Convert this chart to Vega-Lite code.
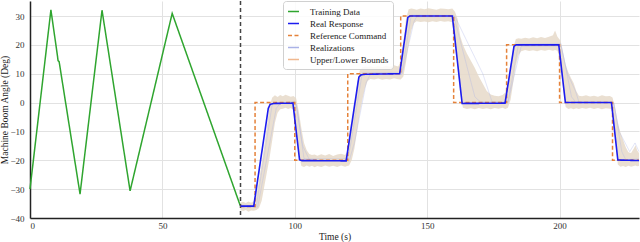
{
  "$schema": "https://vega.github.io/schema/vega-lite/v6.json",
  "width": 609,
  "height": 217,
  "autosize": {"type": "none"},
  "padding": {"left": 30, "top": 1, "right": 1, "bottom": 24},
  "background": "white",
  "datasets": {
    "training": [
      {"t": 0, "y": -30, "series": "Training Data"},
      {"t": 7.9, "y": 32.1, "series": "Training Data"},
      {"t": 10.4, "y": 16, "series": "Training Data"},
      {"t": 10.6, "y": 14.5, "series": "Training Data"},
      {"t": 11.0, "y": 14.2, "series": "Training Data"},
      {"t": 18.9, "y": -31.7, "series": "Training Data"},
      {"t": 27.2, "y": 32, "series": "Training Data"},
      {"t": 37.8, "y": -30.6, "series": "Training Data"},
      {"t": 53.7, "y": 30.9, "series": "Training Data"},
      {"t": 79.4, "y": -35.7, "series": "Training Data"}
    ],
    "divider": [{"t": 79.5}],
    "command": [
      {"t": 79.5, "y": -36, "series": "Reference Command"},
      {"t": 85, "y": 0, "series": "Reference Command"},
      {"t": 100, "y": -20, "series": "Reference Command"},
      {"t": 120, "y": 10, "series": "Reference Command"},
      {"t": 140, "y": 30, "series": "Reference Command"},
      {"t": 160, "y": 0, "series": "Reference Command"},
      {"t": 180, "y": 20, "series": "Reference Command"},
      {"t": 200, "y": 0, "series": "Reference Command"},
      {"t": 220, "y": -20, "series": "Reference Command"},
      {"t": 230, "y": -20, "series": "Reference Command"}
    ],
    "response": [
      {"t": 79.5, "y": -35.9, "series": "Real Response"},
      {"t": 84.5, "y": -35.9, "series": "Real Response"},
      {"t": 90, "y": -2, "series": "Real Response"},
      {"t": 90.7, "y": -0.6, "series": "Real Response"},
      {"t": 92, "y": -0.3, "series": "Real Response"},
      {"t": 99.3, "y": -0.2, "series": "Real Response"},
      {"t": 101.8, "y": -19.8, "series": "Real Response"},
      {"t": 102.5, "y": -20.1, "series": "Real Response"},
      {"t": 119.4, "y": -20.2, "series": "Real Response"},
      {"t": 124.2, "y": 8.8, "series": "Real Response"},
      {"t": 125, "y": 9.6, "series": "Real Response"},
      {"t": 126.5, "y": 9.8, "series": "Real Response"},
      {"t": 139.6, "y": 10, "series": "Real Response"},
      {"t": 142.7, "y": 29.5, "series": "Real Response"},
      {"t": 143.5, "y": 30, "series": "Real Response"},
      {"t": 159.5, "y": 30, "series": "Real Response"},
      {"t": 163.2, "y": -0.3, "series": "Real Response"},
      {"t": 179.4, "y": -0.2, "series": "Real Response"},
      {"t": 182.8, "y": 19.5, "series": "Real Response"},
      {"t": 183.6, "y": 20, "series": "Real Response"},
      {"t": 199.7, "y": 20, "series": "Real Response"},
      {"t": 202.2, "y": 0, "series": "Real Response"},
      {"t": 219.6, "y": 0, "series": "Real Response"},
      {"t": 222, "y": -19.9, "series": "Real Response"},
      {"t": 230, "y": -20.1, "series": "Real Response"}
    ],
    "band": [
      {"t": 79.5, "lo": -37.3, "hi": -34.6},
      {"t": 80.5, "lo": -37.6, "hi": -34.4},
      {"t": 81.5, "lo": -37.2, "hi": -34.8},
      {"t": 82.5, "lo": -37.8, "hi": -34.3},
      {"t": 83.5, "lo": -37.4, "hi": -34.7},
      {"t": 84.5, "lo": -37.5, "hi": -34.2},
      {"t": 85.5, "lo": -37.2, "hi": -32},
      {"t": 86.5, "lo": -36.5, "hi": -27},
      {"t": 87.5, "lo": -34, "hi": -21},
      {"t": 88.5, "lo": -29, "hi": -15},
      {"t": 89.5, "lo": -24, "hi": -8},
      {"t": 90.5, "lo": -19, "hi": -1},
      {"t": 91.5, "lo": -13, "hi": 1.8},
      {"t": 92.5, "lo": -7, "hi": 2.5},
      {"t": 93.5, "lo": -3.5, "hi": 1.9},
      {"t": 94.5, "lo": -2.3, "hi": 2.6},
      {"t": 95.5, "lo": -2.1, "hi": 2.2},
      {"t": 96.5, "lo": -1.8, "hi": 2.7},
      {"t": 97.5, "lo": -2.2, "hi": 2.4},
      {"t": 98.5, "lo": -1.9, "hi": 2.0},
      {"t": 99.5, "lo": -2.5, "hi": 2.3},
      {"t": 100.5, "lo": -9, "hi": 1.5},
      {"t": 101.5, "lo": -18, "hi": -3},
      {"t": 102.5, "lo": -22, "hi": -9},
      {"t": 103.5, "lo": -22.3, "hi": -14},
      {"t": 104.5, "lo": -21.8, "hi": -16.5},
      {"t": 105.5, "lo": -22.2, "hi": -17.8},
      {"t": 106.5, "lo": -21.9, "hi": -18.2},
      {"t": 107.5, "lo": -22.4, "hi": -18.0},
      {"t": 108.5, "lo": -22.0, "hi": -18.4},
      {"t": 110, "lo": -22.3, "hi": -17.9},
      {"t": 111.5, "lo": -21.8, "hi": -18.3},
      {"t": 113, "lo": -22.2, "hi": -17.8},
      {"t": 114.5, "lo": -21.9, "hi": -18.5},
      {"t": 116, "lo": -22.3, "hi": -18.0},
      {"t": 117.5, "lo": -21.8, "hi": -17.7},
      {"t": 119, "lo": -22.2, "hi": -18.2},
      {"t": 119.8, "lo": -22.0, "hi": -17},
      {"t": 120.5, "lo": -21.8, "hi": -13},
      {"t": 121.5, "lo": -20, "hi": -7},
      {"t": 122.5, "lo": -16, "hi": -1},
      {"t": 123.5, "lo": -10, "hi": 6},
      {"t": 124.5, "lo": -4, "hi": 11},
      {"t": 125.5, "lo": 1, "hi": 12.2},
      {"t": 126.5, "lo": 5, "hi": 12.5},
      {"t": 127.5, "lo": 7.5, "hi": 12.3},
      {"t": 128.5, "lo": 8.2, "hi": 12.6},
      {"t": 130, "lo": 8.0, "hi": 12.2},
      {"t": 131.5, "lo": 8.3, "hi": 12.7},
      {"t": 133, "lo": 7.9, "hi": 12.3},
      {"t": 134.5, "lo": 8.2, "hi": 12.8},
      {"t": 136, "lo": 8.0, "hi": 12.4},
      {"t": 137.5, "lo": 8.4, "hi": 12.9},
      {"t": 139, "lo": 8.1, "hi": 12.5},
      {"t": 140, "lo": 8.0, "hi": 14},
      {"t": 141, "lo": 9, "hi": 21},
      {"t": 142, "lo": 14, "hi": 29},
      {"t": 143, "lo": 20, "hi": 32.3},
      {"t": 144, "lo": 25, "hi": 32.6},
      {"t": 145, "lo": 27.5, "hi": 32.4},
      {"t": 146, "lo": 28.2, "hi": 32.2},
      {"t": 147.5, "lo": 27.9, "hi": 32.6},
      {"t": 149, "lo": 28.1, "hi": 32.3},
      {"t": 150.5, "lo": 27.8, "hi": 32.7},
      {"t": 152, "lo": 28.2, "hi": 32.4},
      {"t": 153.5, "lo": 27.9, "hi": 32.2},
      {"t": 155, "lo": 28.3, "hi": 32.6},
      {"t": 156.5, "lo": 28.0, "hi": 32.5},
      {"t": 158, "lo": 28.2, "hi": 32.3},
      {"t": 159.5, "lo": 27.8, "hi": 32.6},
      {"t": 160.5, "lo": 22, "hi": 31.5},
      {"t": 161.5, "lo": 12, "hi": 29},
      {"t": 162.5, "lo": 3, "hi": 23},
      {"t": 163.5, "lo": -1.8, "hi": 20},
      {"t": 165, "lo": -2.2, "hi": 17},
      {"t": 166.5, "lo": -2.0, "hi": 14.5},
      {"t": 168, "lo": -2.3, "hi": 12},
      {"t": 169.5, "lo": -1.9, "hi": 9},
      {"t": 171, "lo": -2.2, "hi": 6.5},
      {"t": 172.5, "lo": -2.0, "hi": 4},
      {"t": 174, "lo": -2.3, "hi": 2.8},
      {"t": 175.5, "lo": -1.9, "hi": 2.4},
      {"t": 177, "lo": -2.1, "hi": 2.2},
      {"t": 178.5, "lo": -1.8, "hi": 2.6},
      {"t": 179.5, "lo": -2.2, "hi": 3.5},
      {"t": 180.5, "lo": -1.8, "hi": 7},
      {"t": 181.5, "lo": 1, "hi": 13},
      {"t": 182.5, "lo": 7, "hi": 19},
      {"t": 183.5, "lo": 13, "hi": 22},
      {"t": 184.5, "lo": 16.5, "hi": 22.3},
      {"t": 185.5, "lo": 17.8, "hi": 22.1},
      {"t": 187, "lo": 18.2, "hi": 22.5},
      {"t": 188.5, "lo": 17.9, "hi": 22.2},
      {"t": 190, "lo": 18.1, "hi": 22.6},
      {"t": 191.5, "lo": 17.8, "hi": 22.3},
      {"t": 193, "lo": 18.2, "hi": 22.7},
      {"t": 194.5, "lo": 18.0, "hi": 22.4},
      {"t": 196, "lo": 18.3, "hi": 22.8},
      {"t": 197.5, "lo": 18.0, "hi": 23.3},
      {"t": 198.3, "lo": 18.2, "hi": 25},
      {"t": 199.2, "lo": 18.0, "hi": 22.8},
      {"t": 200.3, "lo": 14, "hi": 21.5},
      {"t": 201.3, "lo": 5, "hi": 17.5},
      {"t": 202.3, "lo": -1.5, "hi": 13},
      {"t": 203.3, "lo": -2.2, "hi": 10.5},
      {"t": 204.3, "lo": -2.0, "hi": 8.5},
      {"t": 205.3, "lo": -2.3, "hi": 6.8},
      {"t": 206.3, "lo": -2.0, "hi": 4},
      {"t": 207.3, "lo": -2.2, "hi": 2.4},
      {"t": 208.5, "lo": -1.9, "hi": 2.2},
      {"t": 210, "lo": -2.1, "hi": 2.5},
      {"t": 211.5, "lo": -1.8, "hi": 2.1},
      {"t": 213, "lo": -2.2, "hi": 2.4},
      {"t": 214.5, "lo": -1.9, "hi": 2.0},
      {"t": 216, "lo": -2.3, "hi": 2.5},
      {"t": 217.5, "lo": -2.0, "hi": 2.2},
      {"t": 219, "lo": -2.1, "hi": 2.3},
      {"t": 220, "lo": -2.2, "hi": 1.8},
      {"t": 221, "lo": -11, "hi": -2},
      {"t": 222, "lo": -21.5, "hi": -7},
      {"t": 223, "lo": -22.2, "hi": -10.5},
      {"t": 224, "lo": -22.0, "hi": -13},
      {"t": 225, "lo": -22.3, "hi": -15.5},
      {"t": 226, "lo": -21.9, "hi": -17.2},
      {"t": 227, "lo": -22.2, "hi": -17.5},
      {"t": 228, "lo": -22.0, "hi": -16},
      {"t": 228.7, "lo": -21.8, "hi": -14.8},
      {"t": 229.3, "lo": -22.1, "hi": -16.5},
      {"t": 230, "lo": -22.0, "hi": -17.5}
    ],
    "realizations": [
      {"run": "A", "t": 79.5, "y": -35.5, "series": "Realizations"},
      {"run": "A", "t": 85.5, "y": -35.8, "series": "Realizations"},
      {"run": "A", "t": 91.5, "y": -0.5, "series": "Realizations"},
      {"run": "A", "t": 100, "y": 0.5, "series": "Realizations"},
      {"run": "A", "t": 101, "y": -3, "series": "Realizations"},
      {"run": "A", "t": 103.5, "y": -19.5, "series": "Realizations"},
      {"run": "A", "t": 120, "y": -19.5, "series": "Realizations"},
      {"run": "A", "t": 121, "y": -15, "series": "Realizations"},
      {"run": "A", "t": 125.5, "y": 10.3, "series": "Realizations"},
      {"run": "A", "t": 140.5, "y": 10.5, "series": "Realizations"},
      {"run": "A", "t": 144, "y": 30.3, "series": "Realizations"},
      {"run": "A", "t": 160, "y": 30.2, "series": "Realizations"},
      {"run": "A", "t": 168, "y": 2, "series": "Realizations"},
      {"run": "A", "t": 170, "y": 0.3, "series": "Realizations"},
      {"run": "A", "t": 180.5, "y": 0.2, "series": "Realizations"},
      {"run": "A", "t": 184.5, "y": 20.3, "series": "Realizations"},
      {"run": "A", "t": 200.5, "y": 20.5, "series": "Realizations"},
      {"run": "A", "t": 204.5, "y": 2, "series": "Realizations"},
      {"run": "A", "t": 206, "y": 0.3, "series": "Realizations"},
      {"run": "A", "t": 220.5, "y": 0, "series": "Realizations"},
      {"run": "A", "t": 223.5, "y": -17, "series": "Realizations"},
      {"run": "A", "t": 225, "y": -19.8, "series": "Realizations"},
      {"run": "A", "t": 230, "y": -19.5, "series": "Realizations"},
      {"run": "B", "t": 79.5, "y": -36.5, "series": "Realizations"},
      {"run": "B", "t": 86, "y": -36.2, "series": "Realizations"},
      {"run": "B", "t": 93, "y": -2, "series": "Realizations"},
      {"run": "B", "t": 94.5, "y": -0.3, "series": "Realizations"},
      {"run": "B", "t": 100.5, "y": -0.5, "series": "Realizations"},
      {"run": "B", "t": 103, "y": -15, "series": "Realizations"},
      {"run": "B", "t": 105.5, "y": -19.8, "series": "Realizations"},
      {"run": "B", "t": 120.5, "y": -20.3, "series": "Realizations"},
      {"run": "B", "t": 122.5, "y": -14, "series": "Realizations"},
      {"run": "B", "t": 127, "y": 7, "series": "Realizations"},
      {"run": "B", "t": 128.5, "y": 9.7, "series": "Realizations"},
      {"run": "B", "t": 140.5, "y": 9.8, "series": "Realizations"},
      {"run": "B", "t": 141.5, "y": 14, "series": "Realizations"},
      {"run": "B", "t": 145, "y": 28, "series": "Realizations"},
      {"run": "B", "t": 146, "y": 29.7, "series": "Realizations"},
      {"run": "B", "t": 160.5, "y": 29.8, "series": "Realizations"},
      {"run": "B", "t": 171, "y": 10, "series": "Realizations"},
      {"run": "B", "t": 174.5, "y": 0.3, "series": "Realizations"},
      {"run": "B", "t": 180.5, "y": -0.2, "series": "Realizations"},
      {"run": "B", "t": 181.5, "y": 4, "series": "Realizations"},
      {"run": "B", "t": 185.5, "y": 19.5, "series": "Realizations"},
      {"run": "B", "t": 200.5, "y": 19.6, "series": "Realizations"},
      {"run": "B", "t": 203, "y": 10, "series": "Realizations"},
      {"run": "B", "t": 206, "y": 4, "series": "Realizations"},
      {"run": "B", "t": 207.5, "y": -0.3, "series": "Realizations"},
      {"run": "B", "t": 220.5, "y": -0.3, "series": "Realizations"},
      {"run": "B", "t": 222.5, "y": -10, "series": "Realizations"},
      {"run": "B", "t": 226.5, "y": -17, "series": "Realizations"},
      {"run": "B", "t": 228.5, "y": -14, "series": "Realizations"},
      {"run": "B", "t": 230, "y": -17, "series": "Realizations"}
    ]
  },
  "layer": [
    {
      "data": {"name": "band"},
      "mark": {"type": "area", "color": "#e6d9c9", "opacity": 0.85},
      "encoding": {
        "x": {"field": "t", "type": "quantitative", "scale": {"domain": [0, 230], "nice": false}, "axis": {"title": "Time (s)", "values": [0, 50, 100, 150, 200], "labelPadding": 3, "titlePadding": 1}},
        "y": {"field": "lo", "type": "quantitative", "scale": {"domain": [-40, 35.2], "nice": false, "zero": false}, "axis": {"title": "Machine Boom Angle (Deg)", "values": [-40, -30, -20, -10, 0, 10, 20, 30], "labelPadding": 6, "titleX": -21, "labelExpr": "replace(datum.label, '-', '\u2212')"}},
        "y2": {"field": "hi"}
      }
    },
    {
      "data": {"name": "realizations"},
      "mark": {"type": "line", "strokeWidth": 1, "opacity": 0.35},
      "encoding": {
        "x": {"field": "t", "type": "quantitative", "axis": {"title": "Time (s)", "values": [0, 50, 100, 150, 200], "labelPadding": 3, "titlePadding": 1}},
        "y": {"field": "y", "type": "quantitative", "axis": {"title": "Machine Boom Angle (Deg)", "values": [-40, -30, -20, -10, 0, 10, 20, 30], "labelPadding": 6, "titleX": -21, "labelExpr": "replace(datum.label, '-', '\u2212')"}},
        "detail": {"field": "run"},
        "color": {"field": "series", "type": "nominal"},
        "strokeDash": {"field": "series", "type": "nominal"}
      }
    },
    {
      "data": {"name": "training"},
      "mark": {"type": "line", "strokeWidth": 1.5},
      "encoding": {
        "x": {"field": "t", "type": "quantitative", "axis": {"title": "Time (s)", "values": [0, 50, 100, 150, 200], "labelPadding": 3, "titlePadding": 1}},
        "y": {"field": "y", "type": "quantitative", "axis": {"title": "Machine Boom Angle (Deg)", "values": [-40, -30, -20, -10, 0, 10, 20, 30], "labelPadding": 6, "titleX": -21, "labelExpr": "replace(datum.label, '-', '\u2212')"}},
        "color": {
          "field": "series", "type": "nominal",
          "scale": {
            "domain": ["Training Data", "Real Response", "Reference Command", "Realizations", "Upper/Lower Bounds"],
            "range": ["#2fa52f", "#1c1cf0", "#e5823a", "#aab2e6", "#f0b88f"]
          },
          "legend": {"title": null}
        },
        "strokeDash": {
          "field": "series", "type": "nominal",
          "scale": {
            "domain": ["Training Data", "Real Response", "Reference Command", "Realizations", "Upper/Lower Bounds"],
            "range": [[1, 0], [1, 0], [4, 2.5], [1, 0], [1, 0]]
          },
          "legend": {"title": null}
        }
      }
    },
    {
      "data": {"name": "divider"},
      "mark": {"type": "rule", "color": "#444444", "strokeDash": [4, 3], "strokeWidth": 1.5},
      "encoding": {
        "x": {"field": "t", "type": "quantitative", "axis": {"title": "Time (s)", "values": [0, 50, 100, 150, 200], "labelPadding": 3, "titlePadding": 1}}
      }
    },
    {
      "data": {"name": "command"},
      "mark": {"type": "line", "strokeWidth": 1.5, "interpolate": "step-after"},
      "encoding": {
        "x": {"field": "t", "type": "quantitative", "axis": {"title": "Time (s)", "values": [0, 50, 100, 150, 200], "labelPadding": 3, "titlePadding": 1}},
        "y": {"field": "y", "type": "quantitative", "axis": {"title": "Machine Boom Angle (Deg)", "values": [-40, -30, -20, -10, 0, 10, 20, 30], "labelPadding": 6, "titleX": -21, "labelExpr": "replace(datum.label, '-', '\u2212')"}},
        "color": {"field": "series", "type": "nominal"},
        "strokeDash": {"field": "series", "type": "nominal"}
      }
    },
    {
      "data": {"name": "response"},
      "mark": {"type": "line", "strokeWidth": 1.6},
      "encoding": {
        "x": {"field": "t", "type": "quantitative", "axis": {"title": "Time (s)", "values": [0, 50, 100, 150, 200], "labelPadding": 3, "titlePadding": 1}},
        "y": {"field": "y", "type": "quantitative", "axis": {"title": "Machine Boom Angle (Deg)", "values": [-40, -30, -20, -10, 0, 10, 20, 30], "labelPadding": 6, "titleX": -21, "labelExpr": "replace(datum.label, '-', '\u2212')"}},
        "color": {"field": "series", "type": "nominal"},
        "strokeDash": {"field": "series", "type": "nominal"}
      }
    }
  ],
  "config": {
    "font": "Liberation Serif, Times New Roman, serif",
    "view": {"stroke": null},
    "axis": {
      "labelFont": "Liberation Serif, Times New Roman, serif",
      "titleFont": "Liberation Serif, Times New Roman, serif",
      "labelFontSize": 9,
      "titleFontSize": 9.5,
      "titleFontWeight": "normal",
      "labelColor": "#333333",
      "titleColor": "#222222",
      "ticks": false,
      "domainColor": "#222222",
      "domainWidth": 1.5,
      "gridColor": "#e2e2e2",
      "gridWidth": 1
    },
    "legend": {
      "orient": "none",
      "legendX": 253,
      "legendY": 0,
      "labelFont": "Liberation Serif, Times New Roman, serif",
      "labelFontSize": 9,
      "labelColor": "#222222",
      "symbolType": "stroke",
      "symbolSize": 121,
      "symbolStrokeWidth": 1.6,
      "symbolOpacity": 1,
      "labelOffset": 10,
      "rowPadding": 0,
      "padding": 4,
      "fillColor": "rgba(255,255,255,0.85)",
      "strokeColor": "#d0d0d0",
      "cornerRadius": 3
    }
  }
}
